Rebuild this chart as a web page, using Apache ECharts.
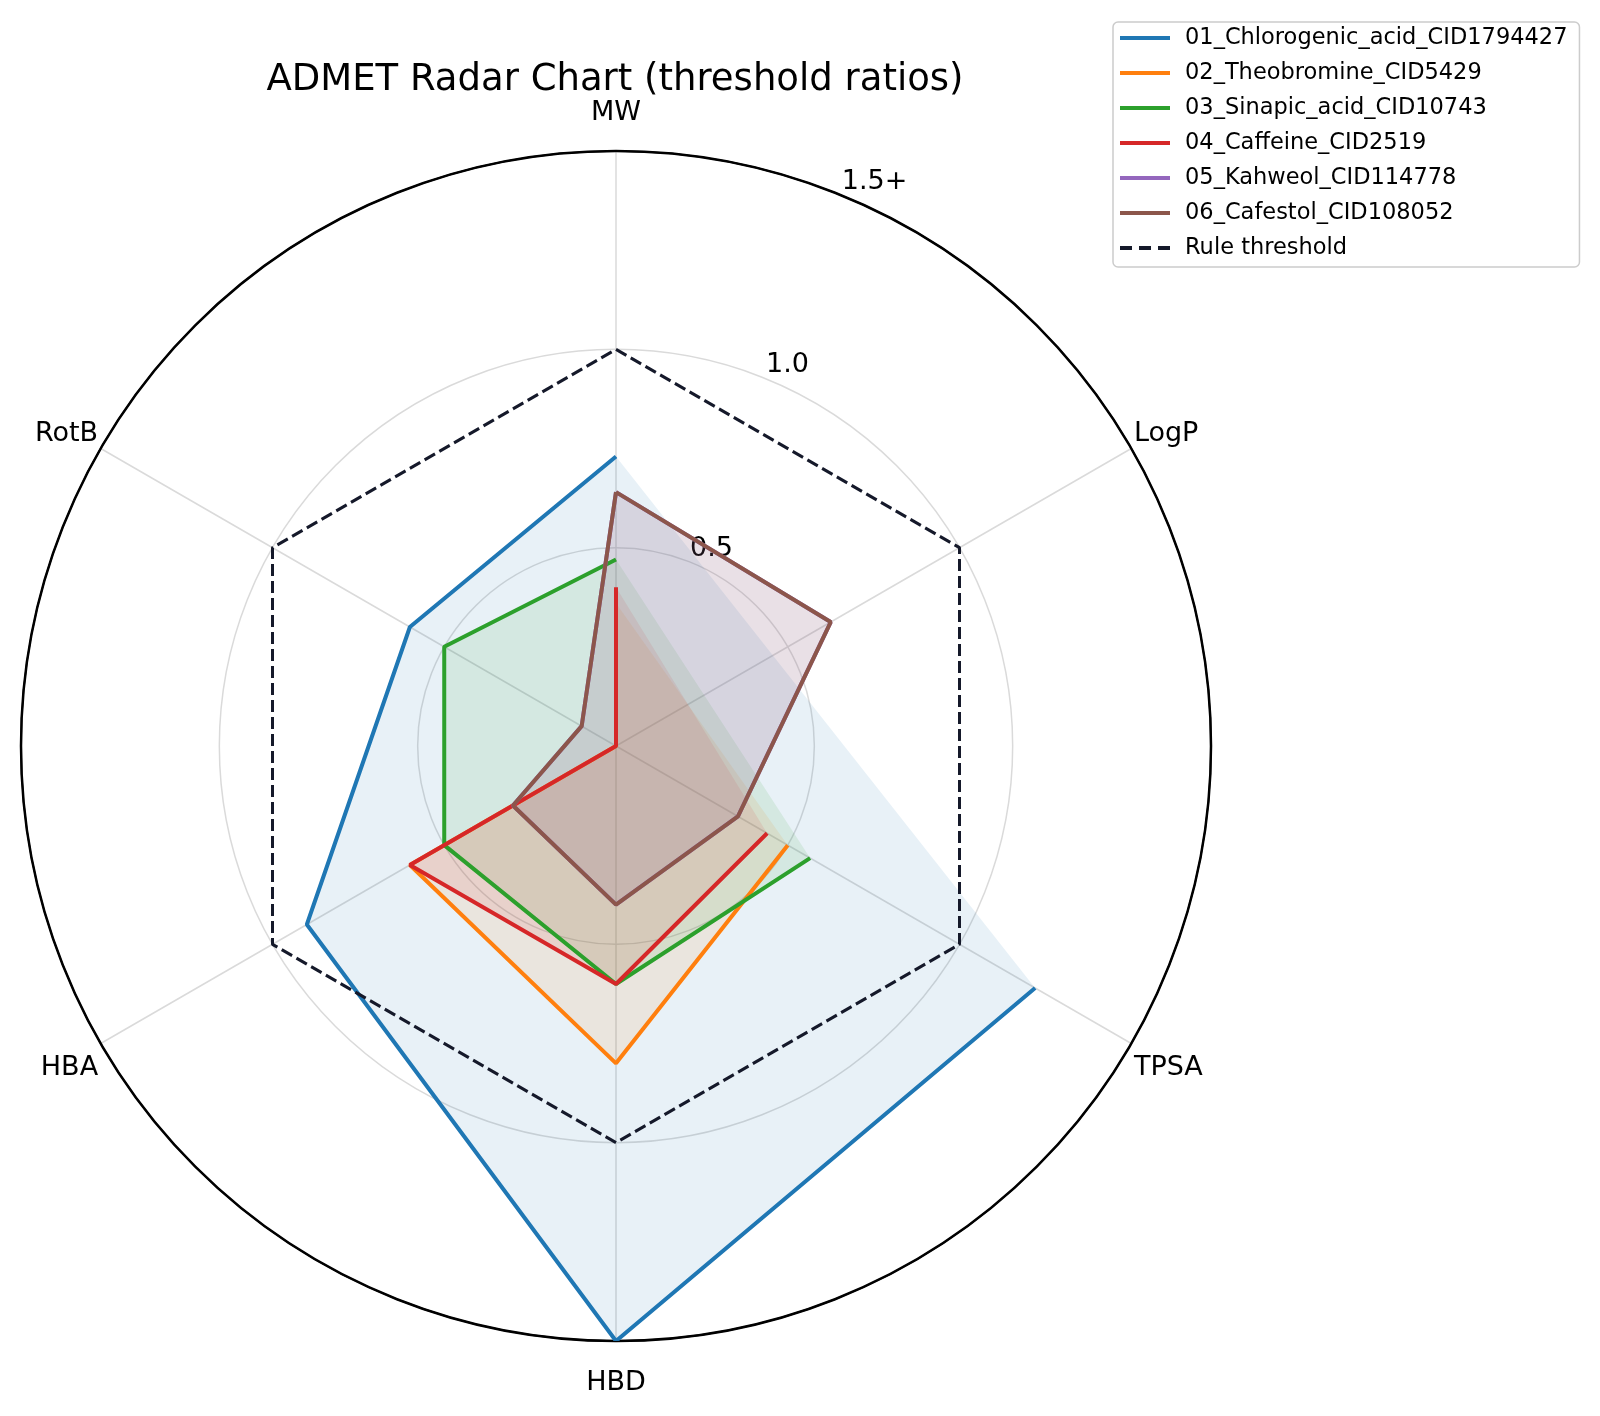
<!DOCTYPE html>
<html lang="en">
<head>
    <meta charset="UTF-8">
    <title>ADMET Radar Chart</title>
    <script src="https://cdn.jsdelivr.net/npm/echarts@6/dist/echarts.min.js"></script>
    <style>
        html, body { margin: 0; padding: 0; background: #fff; }
    </style>
</head>
<body>
    <div id="main" style="width: 1600px; height: 1416px;"></div>

    <script>
        // Axes of the radar, clockwise from the top
        var axisNames = ['MW', 'LogP', 'TPSA', 'HBD', 'HBA', 'RotB'];
        var radiusTicks = ['', '0.5', '1.0', '1.5+'];

        // Threshold ratios per compound (null = no value, line is broken there)
        var chlorogenic = [0.73, null, 1.22, 1.5, 0.90, 0.60];
        var theobromine = [0.36, null, 0.50, 0.80, 0.60, 0];
        var sinapic     = [0.47, null, 0.565, 0.60, 0.50, 0.50];
        var caffeine    = [0.40, null, 0.44, 0.60, 0.60, 0];
        var kahweol     = [0.64, 0.625, 0.355, 0.40, 0.30, 0.10];
        var cafestol    = [0.64, 0.625, 0.355, 0.40, 0.30, 0.10];
        var threshold   = [1, 1, 1, 1, 1, 1];

        var compounds = [
            { name: '01_Chlorogenic_acid_CID1794427', values: chlorogenic, color: '#1f77b4' },
            { name: '02_Theobromine_CID5429', values: theobromine, color: '#ff7f0e' },
            { name: '03_Sinapic_acid_CID10743', values: sinapic, color: '#2ca02c' },
            { name: '04_Caffeine_CID2519', values: caffeine, color: '#d62728' },
            { name: '05_Kahweol_CID114778', values: kahweol, color: '#9467bd' },
            { name: '06_Cafestol_CID108052', values: cafestol, color: '#8c564b' }
        ];

        var FONT = 'DejaVu Sans';
        var step = 360 / axisNames.length;

        // [radius, angle] pairs, closing back to the first axis at 360
        function lineData(values) {
            var out = values.map(function (v, i) {
                return [v == null ? '-' : v, i * step];
            });
            out.push([values[0] == null ? '-' : values[0], 360]);
            return out;
        }
        // fill skips missing points, so the polygon joins the neighbours
        function areaData(values) {
            return lineData(values).filter(function (p) { return p[0] !== '-'; });
        }

        var series = [];
        compounds.forEach(function (c) {
            series.push({
                name: c.name + ' fill',
                type: 'line',
                coordinateSystem: 'polar',
                polarIndex: 0,
                symbol: 'none',
                silent: true,
                z: 1,
                lineStyle: { width: 0, color: c.color },
                areaStyle: { color: c.color, opacity: 0.1 },
                data: areaData(c.values)
            });
            series.push({
                name: c.name,
                type: 'line',
                coordinateSystem: 'polar',
                polarIndex: 0,
                symbol: 'none',
                z: 3,
                color: c.color,
                lineStyle: { width: 4, color: c.color },
                data: lineData(c.values)
            });
        });
        series.push({
            name: 'Rule threshold',
            type: 'line',
            coordinateSystem: 'polar',
            polarIndex: 0,
            symbol: 'none',
            z: 4,
            color: '#15192a',
            lineStyle: { width: 3, color: '#15192a', type: [12, 5] },
            data: lineData(threshold)
        });

        var legendData = compounds.map(function (c) {
            return { name: c.name, icon: 'rect' };
        });
        legendData.push({
            name: 'Rule threshold',
            icon: 'path://M0,0h12v4h-12z M19,0h12v4h-12z M38,0h12v4h-12z'
        });

        var labelStyle = { fontFamily: FONT, fontSize: 27, color: '#000' };
        function rich(padding) {
            return Object.assign({ padding: padding }, labelStyle);
        }

        var chart = echarts.init(document.getElementById('main'));

        var option = {
            backgroundColor: '#ffffff',
            animation: false,
            title: {
                text: 'ADMET Radar Chart (threshold ratios)',
                left: 610,
                textAlign: 'center',
                top: 57,
                textStyle: { fontFamily: FONT, fontSize: 37, fontWeight: 'normal', color: '#000' }
            },
            legend: {
                orient: 'vertical',
                left: 1113,
                top: 22,
                padding: [4, 12, 7, 7],
                itemWidth: 50,
                itemHeight: 4,
                itemGap: 11,
                borderColor: '#cccccc',
                borderWidth: 1.5,
                borderRadius: 5,
                textStyle: { fontFamily: FONT, fontSize: 22.5, lineHeight: 24, color: '#000', padding: [0, 0, 0, 10] },
                data: legendData
            },
            polar: [
                { center: [616, 746], radius: 595 },
                { center: [616, 746], radius: 595 }
            ],
            angleAxis: [
                {
                    polarIndex: 0,
                    type: 'value',
                    min: 0,
                    max: 360,
                    interval: step,
                    startAngle: 90,
                    clockwise: true,
                    axisLine: { lineStyle: { color: '#000', width: 2.5 } },
                    axisTick: { show: false },
                    splitLine: { show: true, lineStyle: { color: '#dadada', width: 1.5 } },
                    axisLabel: {
                        margin: 3,
                        color: '#000',
                        fontFamily: FONT,
                        fontSize: 27,
                        formatter: function (v) {
                            var n = axisNames[Math.round(v / step)] || '';
                            if (n === 'MW') return '{t|' + n + '}';
                            if (n === 'HBD') return '{b|' + n + '}';
                            if (n === 'TPSA' || n === 'HBA') return '{lo|' + n + '}';
                            return n;
                        },
                        rich: {
                            t: rich([0, 0, 22, 0]),
                            b: rich([25, 0, 0, 0]),
                            lo: rich([9, 0, 0, 0])
                        }
                    }
                },
                {
                    polarIndex: 1,
                    type: 'value',
                    min: 0,
                    max: 360,
                    startAngle: 67.5,
                    show: false
                }
            ],
            radiusAxis: [
                {
                    polarIndex: 0,
                    min: 0,
                    max: 1.5,
                    interval: 0.5,
                    axisLine: { show: false },
                    axisTick: { show: false },
                    axisLabel: { show: false },
                    splitLine: {
                        show: true,
                        lineStyle: { color: ['#dadada', '#dadada', '#dadada', '#000000'], width: 1.5 }
                    }
                },
                {
                    polarIndex: 1,
                    min: 0,
                    max: 1.5,
                    interval: 0.5,
                    axisLine: { show: false },
                    axisTick: { show: false },
                    splitLine: { show: false },
                    axisLabel: {
                        margin: 2,
                        align: 'left',
                        verticalAlign: 'bottom',
                        color: '#000',
                        fontFamily: FONT,
                        fontSize: 27,
                        formatter: function (v) {
                            return radiusTicks[Math.round(v / 0.5)] || '';
                        }
                    }
                }
            ],
            series: series
        };

        chart.setOption(option);
    </script>
</body>
</html>
